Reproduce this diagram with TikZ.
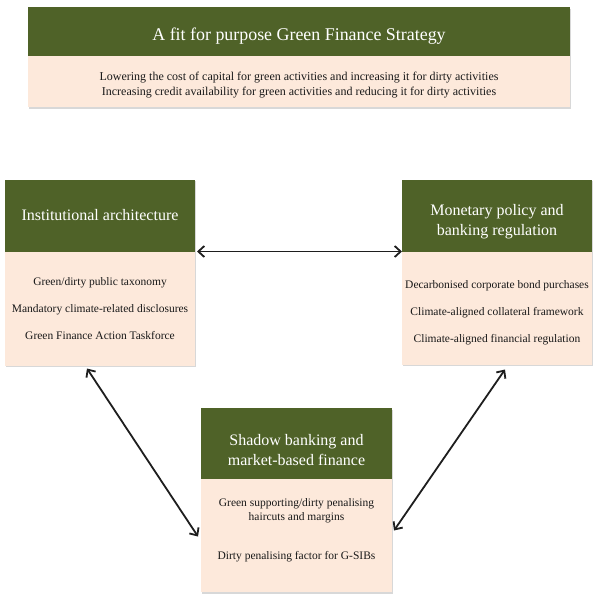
\documentclass[tikz,border=0pt]{standalone}
\usepackage{fontspec}
\setmainfont{Liberation Serif}
\usetikzlibrary{positioning,shadows,arrows.meta}
\definecolor{headgreen}{HTML}{4F6228}
\definecolor{bodypink}{HTML}{FDE9DB}
\definecolor{linkgrey}{HTML}{1E1E1E}

\begin{document}
\begin{tikzpicture}
        [x=1pt, y=-1pt, font=\fontsize{11.5}{13.5}\selectfont,
        every node/.style={inner sep=0pt, outer sep=0pt, align=center},
        head/.style={fill=headgreen, text=white, minimum width=190pt,
        font=\fontsize{16}{20}\selectfont,
        drop shadow={shadow xshift=1pt, shadow yshift=-1.5pt, fill=black!30}},
        body/.style={fill=bodypink, text=black!90, minimum width=190pt,
        drop shadow={shadow xshift=1pt, shadow yshift=-1.5pt, fill=black!30}},
        link/.style={draw=linkgrey, line width=1.8pt,
        {Straight Barb[length=6pt,width=11pt]}-{Straight Barb[length=6pt,width=11pt]}}]
        \useasboundingbox (0,0) rectangle (602,600);
        % strategy
        \node[head, minimum width=542pt, minimum height=49pt, text height=21pt,
            font=\fontsize{17.9}{21}\selectfont] (goal) at (299,31.5)
            {A fit for purpose Green Finance Strategy};
        \node[body, minimum width=542pt, minimum height=51pt, below=0pt of goal,
            font=\fontsize{12}{15}\selectfont] (goalbody)
            {\mbox{}\\[1pt]
            Lowering the cost of capital for green activities and increasing it for dirty activities\\
            Increasing credit availability for green activities and reducing it for dirty activities};
        % three pillars
        \node[head, minimum height=72pt] (inst) at (100,215.5)
            {Institutional architecture};
        \node[body, minimum height=114pt, below=0pt of inst] (instbody)
            {Green/dirty public taxonomy\\[13.5pt]
            Mandatory climate-related disclosures\\[13.5pt]
            Green Finance Action Taskforce};
        \node[head, minimum height=72pt] (mon) at (497,215.5)
            {\mbox{}\\[3pt]Monetary policy and\\banking regulation};
        \node[body, minimum height=113pt, below=0pt of mon] (monbody)
            {\mbox{}\\[4.5pt]Decarbonised corporate bond purchases\\[13.5pt]
            Climate-aligned collateral framework\\[13.5pt]
            Climate-aligned financial regulation};
        \node[head, minimum width=191pt, minimum height=71pt] (shad) at (296.5,443.5)
            {\mbox{}\\[5pt]Shadow banking and\\market-based finance};
        \node[body, minimum width=191pt, minimum height=113pt, below=0pt of shad]
            (shadbody) {Green supporting/dirty penalising\\haircuts and margins\\[25.5pt]
            Dirty penalising factor for G-SIBs\\[-1pt]\mbox{}};
        % links
        \draw[link] ([xshift=2pt]inst.south east) -- (mon.south west);
        \draw[link] ([xshift=-13pt,yshift=-3pt]instbody.south)
            -- ([xshift=-3pt,yshift=-1pt]shadbody.west);
        \draw[link] ([xshift=8pt,yshift=-5pt]monbody.south)
            -- ([xshift=2pt,yshift=5pt]shadbody.east);
\end{tikzpicture}
\end{document}
